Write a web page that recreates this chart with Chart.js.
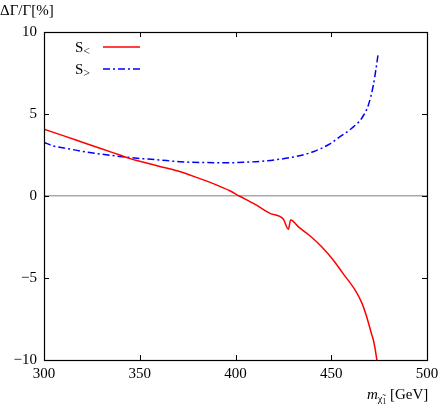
<!DOCTYPE html>
<html>
<head>
<meta charset="utf-8">
<script src="https://cdn.jsdelivr.net/npm/chart.js@4/dist/chart.umd.min.js"></script>
<style>
  html, body { margin: 0; padding: 0; background: #fff; }
  #wrap { position: relative; width: 440px; height: 409px; font-family: "Liberation Serif", serif; }
  #c { position: absolute; left: 0; top: 0; }
  .lbl { position: absolute; font-size: 15px; color: #000; white-space: nowrap; line-height: 1; }
  sub { font-size: 70%; vertical-align: -0.3em; line-height: 0; }
</style>
</head>
<body>
<div id="wrap">
  <canvas id="c" width="440" height="409"></canvas>
  <div class="lbl" id="ytitle" style="left:0px; top:3px;">ΔΓ/Γ[%]</div>
  <div class="lbl" id="xtitle" style="left:367px; top:387px;"><i>m</i><sub>χ̃<sub>1</sub></sub> [GeV]</div>
</div>
<script>
// S< (red, solid)
const massLess = [300, 310, 320, 330, 340, 345, 350, 360, 370, 380, 390, 397, 402, 410, 418, 425, 427.6, 428.8, 433, 439, 445, 451, 456, 462.4, 465.9, 468.5, 471, 472, 473.7, 474.4];
const shiftLess = [4.07, 3.68, 3.28, 2.88, 2.48, 2.28, 2.12, 1.82, 1.52, 1.12, 0.68, 0.32, 0.0, -0.5, -1.06, -1.42, -2.03, -1.46, -1.9, -2.44, -3.1, -3.9, -4.7, -5.73, -6.5, -7.36, -8.4, -8.78, -9.9, -10.6];

// S> (blue, dash-dot)
const massGreater = [300, 305, 312, 320, 330, 345, 360, 371, 385, 397, 405, 415, 423, 432, 440.6, 449.3, 454.6, 460.7, 465.9, 469.4, 472, 473.4, 474.6];
const shiftGreater = [3.27, 3.05, 2.9, 2.72, 2.55, 2.34, 2.2, 2.09, 2.04, 2.03, 2.06, 2.13, 2.24, 2.42, 2.7, 3.18, 3.62, 4.13, 4.74, 5.55, 6.77, 7.78, 8.76];

const xTicks = [300, 350, 400, 450, 500];
const yTicks = [-10, -5, 0, 5, 10];
const seriesNames = ['S', 'S'];
const seriesSubs = ['<', '>'];

function toPoints(xs, ys) {
  return xs.map((x, i) => ({ x: x, y: ys[i] }));
}

const frameTicks = {
  id: 'frameTicks',
  afterDatasetsDraw(chart) {
    const { ctx, chartArea: a, scales } = chart;
    ctx.save();
    ctx.strokeStyle = '#000';
    ctx.lineWidth = 1;
    ctx.beginPath();
    xTicks.forEach(v => {
      const px = Math.round(scales.x.getPixelForValue(v)) + 0.5;
      ctx.moveTo(px, a.bottom); ctx.lineTo(px, a.bottom - 5);
      ctx.moveTo(px, a.top); ctx.lineTo(px, a.top + 5);
    });
    yTicks.forEach(v => {
      const py = Math.round(scales.y.getPixelForValue(v)) + 0.5;
      ctx.moveTo(a.left, py); ctx.lineTo(a.left + 5, py);
      ctx.moveTo(a.right, py); ctx.lineTo(a.right - 5, py);
    });
    ctx.stroke();
    ctx.lineWidth = 1.2;
    ctx.strokeRect(Math.round(a.left) + 0.5, Math.round(a.top) + 0.5,
      Math.round(a.right - a.left), Math.round(a.bottom - a.top));

    // legend inside the plot, top-left
    chart.data.datasets.forEach((ds, i) => {
      const y = a.top + 15 + i * 22;
      ctx.fillStyle = '#000';
      ctx.textBaseline = 'alphabetic';
      ctx.textAlign = 'left';
      ctx.font = '15px "Liberation Serif", serif';
      ctx.fillText(seriesNames[i], a.left + 31, y + 5);
      const w = ctx.measureText(seriesNames[i]).width;
      ctx.font = '12px "Liberation Serif", serif';
      ctx.fillText(seriesSubs[i], a.left + 31 + w, y + 8);
      ctx.strokeStyle = ds.borderColor;
      ctx.lineWidth = ds.borderWidth;
      ctx.setLineDash(ds.borderDash || []);
      ctx.beginPath();
      ctx.moveTo(a.left + 59, y);
      ctx.lineTo(a.left + 96, y);
      ctx.stroke();
      ctx.setLineDash([]);
    });
    ctx.restore();
  }
};

new Chart(document.getElementById('c'), {
  type: 'scatter',
  data: {
    datasets: [
      {
        label: 'S<',
        data: toPoints(massLess, shiftLess),
        showLine: true,
        borderColor: '#ff0000',
        borderWidth: 1.5,
        pointRadius: 0,
        cubicInterpolationMode: 'monotone'
      },
      {
        label: 'S>',
        data: toPoints(massGreater, shiftGreater),
        showLine: true,
        borderColor: '#0000ff',
        borderWidth: 1.5,
        borderDash: [7, 3, 2, 3],
        pointRadius: 0,
        cubicInterpolationMode: 'monotone'
      }
    ]
  },
  options: {
    responsive: false,
    animation: false,
    devicePixelRatio: 1,
    layout: { padding: { top: 32, right: 13, left: 0, bottom: 0 } },
    plugins: {
      legend: { display: false },
      tooltip: { enabled: false }
    },
    scales: {
      x: {
        type: 'linear',
        min: 300,
        max: 500,
        afterFit: s => { s.height = 49; s.paddingLeft = 0; s.paddingRight = 0; },
        afterBuildTicks: s => { s.ticks = xTicks.map(v => ({ value: v })); },
        grid: { display: false, drawTicks: false },
        border: { display: false },
        ticks: {
          padding: 5,
          color: '#000',
          font: { family: '"Liberation Serif", serif', size: 15 }
        }
      },
      y: {
        min: -10,
        max: 10,
        afterFit: s => { s.width = 44; s.paddingTop = 0; s.paddingBottom = 0; },
        afterBuildTicks: s => { s.ticks = yTicks.map(v => ({ value: v })); },
        grid: {
          drawTicks: false,
          lineWidth: 1.5,
          color: c => (c.tick && c.tick.value === 0 ? '#aaaaaa' : 'rgba(0,0,0,0)')
        },
        border: { display: false },
        ticks: {
          padding: 7,
          color: '#000',
          font: { family: '"Liberation Serif", serif', size: 15 },
          callback: v => String(v).replace('-', '\u2212')
        }
      }
    }
  },
  plugins: [frameTicks]
});
</script>
</body>
</html>
